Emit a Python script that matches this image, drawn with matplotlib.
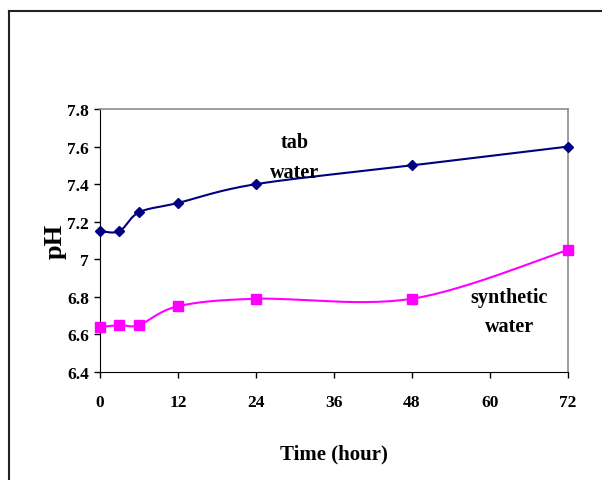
import numpy as np
import matplotlib

matplotlib.use("Agg")
import matplotlib.pyplot as plt
from matplotlib.lines import Line2D

hours = [0, 3, 6, 12, 24, 48, 72]
ph_tab = [7.15, 7.15, 7.25, 7.30, 7.40, 7.50, 7.60]
ph_synthetic = [6.64, 6.65, 6.65, 6.75, 6.79, 6.79, 7.05]

x_ticks = [0, 12, 24, 36, 48, 60, 72]
y_ticks = [6.4, 6.6, 6.8, 7.0, 7.2, 7.4, 7.6, 7.8]
y_tick_labels = ["6.4", "6.6", "6.8", "7", "7.2", "7.4", "7.6", "7.8"]

plt.rcParams["font.family"] = ["Liberation Serif", "DejaVu Serif"]
plt.rcParams["font.weight"] = "bold"


def smooth(xs, ys, steps=30):
    """Bezier-smoothed curve through the points (spreadsheet style)."""
    xs = np.asarray(xs, float)
    ys = np.asarray(ys, float)
    n = len(xs)
    out_x, out_y = [], []
    for i in range(n - 1):
        p0 = np.array([xs[max(i - 1, 0)], ys[max(i - 1, 0)]])
        p1 = np.array([xs[i], ys[i]])
        p2 = np.array([xs[i + 1], ys[i + 1]])
        p3 = np.array([xs[min(i + 2, n - 1)], ys[min(i + 2, n - 1)]])
        c1 = p1 + (p2 - p0) / 6.0
        c2 = p2 - (p3 - p1) / 6.0
        t = np.linspace(0, 1, steps)[:, None]
        pts = ((1 - t) ** 3) * p1 + 3 * ((1 - t) ** 2) * t * c1 \
            + 3 * (1 - t) * t ** 2 * c2 + t ** 3 * p2
        out_x.extend(pts[:, 0])
        out_y.extend(pts[:, 1])
    return out_x, out_y


fig = plt.figure(figsize=(6.02, 4.81), dpi=100)
ax = fig.add_axes([0.1661, 0.2245, 0.7774, 0.5468])

sx, sy = smooth(hours, ph_tab)
ax.plot(sx, sy, color="#000080", linewidth=1.5)
ax.plot(hours, ph_tab, linestyle="none", marker="D", markersize=5.5,
        color="#000080", clip_on=False, zorder=5)

sx, sy = smooth(hours, ph_synthetic)
ax.plot(sx, sy, color="#FF00FF", linewidth=1.5)
ax.plot(hours, ph_synthetic, linestyle="none", marker="s", markersize=7.5,
        color="#FF00FF", clip_on=False, zorder=5)

ax.set_xlim(0, 72)
ax.set_ylim(6.4, 7.8)
ax.set_xticks(x_ticks)
ax.set_yticks(y_ticks)
ax.set_yticklabels(y_tick_labels)
ax.tick_params(axis="both", direction="out", length=4, width=1,
               labelsize=12.5)
ax.tick_params(axis="x", pad=12)
ax.tick_params(axis="y", pad=4)
for lbl in ax.get_xticklabels() + ax.get_yticklabels():
    lbl.set_fontweight("bold")

ax.spines["left"].set_color("black")
ax.spines["bottom"].set_color("black")
ax.spines["top"].set_color("#8c8c8c")
ax.spines["right"].set_color("#8c8c8c")
for side in ("top", "right"):
    ax.spines[side].set_linewidth(1.2)

ax.set_ylabel("pH", fontsize=19, fontweight="bold", labelpad=0)
ax.set_xlabel("Time (hour)", fontsize=15, fontweight="bold", labelpad=24)

ax.text(30, 7.545, "tab\nwater", ha="center", va="center", fontsize=14.5,
        fontweight="bold", linespacing=1.65)
ax.text(63, 6.72, "synthetic\nwater", ha="center", va="center",
        fontsize=14.5, fontweight="bold", linespacing=1.6)

# outer chart frame (top and left edges only)
fig.add_artist(Line2D([0.0145, 0.0145], [0.0, 0.975], color="#222222",
                      linewidth=1.5, transform=fig.transFigure))
fig.add_artist(Line2D([0.0145, 1.0], [0.975, 0.975], color="#222222",
                      linewidth=1.5, transform=fig.transFigure))

fig.savefig("out.png", dpi=100)
